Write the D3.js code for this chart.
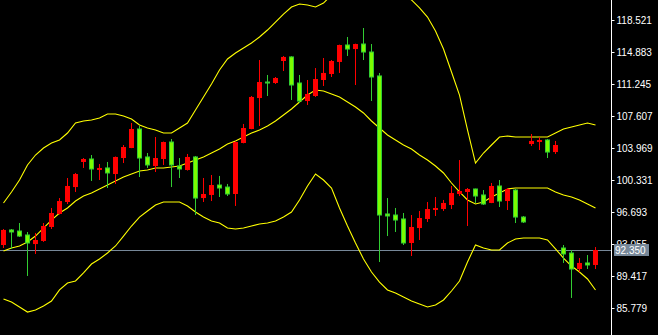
<!DOCTYPE html>
<html lang="en">
<head>
  <meta charset="UTF-8">
  <title>Candles with Bollinger Bands</title>
<script src="https://d3js.org/d3.v7.min.js"></script>
<style>
  html, body { margin: 0; padding: 0; background: #000; overflow: hidden; }
</style>
</head>
<body>
<div id="chart"></div>

  <script>

// OHLC (red = up bar, lime = down bar)
const opens  = [92.94,94.65,94.53,94.08,93.05,93.40,94.99,96.47,97.83,99.53,102.38,102.72,101.47,101.70,101.01,102.83,103.97,106.13,102.95,101.92,102.72,104.65,101.92,101.47,102.95,98.28,98.63,99.76,99.53,98.74,104.54,106.13,109.65,111.47,111.36,113.86,114.32,111.36,109.31,109.88,111.70,112.38,113.75,115.68,115.22,115.79,114.88,112.16,96.47,96.35,95.90,93.17,94.87,95.90,96.92,97.03,97.49,98.74,98.97,99.31,98.63,97.72,99.65,97.94,99.19,96.12,104.42,104.65,104.88,103.51,92.60,92.03,90.21,90.90,90.67];
const highs  = [94.76,94.76,95.44,94.42,94.31,95.44,97.15,98.28,100.56,101.13,102.83,103.17,102.15,102.38,103.00,104.31,106.81,106.47,103.40,105.22,104.70,104.99,102.83,103.29,103.06,100.56,100.90,100.79,99.88,104.70,106.70,109.88,113.97,112.27,112.04,114.43,114.40,112.27,111.70,113.06,114.20,113.97,115.72,116.59,115.83,117.61,115.79,112.50,98.28,97.15,96.58,96.35,96.81,97.83,98.40,98.06,99.65,102.60,99.42,99.35,99.19,99.99,100.33,99.42,99.31,96.24,105.56,105.22,104.99,104.77,92.94,92.37,91.46,91.80,92.71];
const lows   = [92.60,92.49,93.85,89.42,91.92,93.30,94.76,96.40,97.60,98.97,101.70,100.22,100.33,99.42,99.88,102.26,103.95,100.67,101.70,101.24,102.04,99.53,100.56,101.40,96.35,97.83,97.94,98.40,98.51,97.38,104.50,106.10,106.47,109.88,111.25,112.72,109.43,109.09,108.86,109.77,111.02,112.04,112.50,114.43,111.13,113.97,109.31,91.01,93.96,94.42,92.94,91.69,93.51,95.56,96.24,96.81,97.03,98.51,95.10,97.72,97.49,97.70,97.26,96.92,95.44,95.44,104.20,103.74,102.83,103.29,90.90,86.92,89.87,90.21,90.21];
const closes = [94.65,94.42,93.96,93.17,93.51,95.10,96.58,97.94,99.65,101.01,102.72,101.58,101.70,101.13,102.95,104.08,106.13,102.83,102.04,102.83,104.65,102.04,101.58,102.95,98.28,98.74,99.76,99.42,98.74,104.65,106.24,109.77,111.47,111.36,111.93,114.32,111.13,109.31,110.11,111.81,112.50,113.86,115.68,115.22,115.79,114.88,112.04,96.35,96.24,95.78,93.17,94.99,96.01,97.03,97.15,97.72,98.85,99.08,99.31,98.51,97.60,99.65,97.94,99.31,96.12,95.56,104.77,104.88,103.51,104.31,91.92,90.21,90.90,90.67,92.37];

// Bollinger bands
const bandUpper = [97.72,98.97,100.33,102.04,103.17,103.97,104.54,104.88,105.67,106.81,107.04,107.15,107.38,107.83,107.83,107.61,107.27,106.58,106.24,106.02,105.67,105.67,106.24,106.81,108.29,109.77,111.25,112.84,114.09,114.77,115.34,115.91,116.59,117.38,118.29,119.20,120.00,120.34,120.23,120.00,120.45,121.36,122.16,122.84,123.30,123.52,123.52,123.30,122.84,122.16,121.48,120.80,119.89,118.86,117.27,115.22,112.61,109.99,106.02,102.26,103.40,104.31,105.22,105.33,105.22,105.22,105.22,105.22,105.22,105.67,106.13,106.36,106.58,106.81,106.58];
const bandMiddle = [92.26,92.60,92.83,93.28,93.96,94.87,95.78,96.58,97.15,97.94,98.51,98.85,99.31,99.76,100.22,100.67,101.01,101.35,101.47,101.70,101.70,101.81,101.92,102.26,102.60,102.95,103.40,103.86,104.42,104.77,105.22,105.67,106.02,106.47,107.04,107.72,108.40,109.20,109.99,110.56,110.45,110.11,109.77,109.20,108.63,107.95,107.04,106.24,105.45,104.88,104.31,103.86,103.17,102.60,101.92,101.13,99.99,98.97,98.06,97.60,97.83,98.40,98.85,99.31,99.42,99.42,99.42,99.42,99.42,98.97,98.63,98.40,98.06,97.60,97.15];
const bandLower = [86.80,86.46,85.89,85.32,85.55,86.01,86.57,87.83,88.62,88.85,89.76,90.78,91.35,92.03,92.83,93.96,95.10,96.12,96.81,97.49,97.83,97.83,97.83,97.38,96.69,96.12,95.67,95.44,94.87,94.76,94.87,95.10,95.33,95.44,95.67,96.12,96.69,98.06,99.65,101.01,100.33,99.42,97.15,95.10,93.17,91.35,89.87,88.73,87.83,87.48,87.03,86.57,86.23,85.89,86.12,86.69,87.71,88.85,91.01,92.94,92.60,92.37,92.37,93.17,93.62,93.74,93.74,93.74,93.51,92.49,91.46,90.55,89.87,89.08,87.83];

const tickLabels = ['118.521','114.883','111.245','107.607','103.969','100.331','96.693','93.055','89.417','85.779'];
const lastPrice = 92.350;

const width = 658;
const height = 335;
const plotRight = 611;

const candles = opens.map((o, i) => ({ i, o, h: highs[i], l: lows[i], c: closes[i] }));

const x = d3.scaleLinear()
  .domain([0, candles.length - 1])
  .range([3.5, 595.5]);

const y = d3.scaleLinear()
  .domain([85.779, 118.521])
  .range([308, 20]);

const svg = d3.select('#chart')
  .append('svg')
  .attr('width', width)
  .attr('height', height)
  .style('display', 'block')
  .style('background', '#000');

svg.append('clipPath')
  .attr('id', 'plot')
  .append('rect')
  .attr('x', 0).attr('y', 0)
  .attr('width', plotRight).attr('height', height);

const plot = svg.append('g').attr('clip-path', 'url(#plot)');

// current price line
plot.append('line')
  .attr('x1', 0).attr('x2', plotRight)
  .attr('y1', Math.round(y(lastPrice)) + 0.5)
  .attr('y2', Math.round(y(lastPrice)) + 0.5)
  .attr('stroke', '#778899')
  .attr('stroke-width', 1);

// bands
const line = d3.line()
  .x((d, i) => x(i))
  .y(d => y(d));

[bandUpper, bandMiddle, bandLower].forEach(band => {
  plot.append('path')
    .datum(band)
    .attr('d', line)
    .attr('fill', 'none')
    .attr('stroke', '#ffff00')
    .attr('stroke-width', 1.1);
});

// candles
const up = '#ff0000';
const downFill = '#7cfc00';
const downLine = '#32cd32';

const g = plot.selectAll('g.candle')
  .data(candles)
  .enter()
  .append('g')
  .attr('class', 'candle');

g.append('line')
  .attr('x1', d => x(d.i)).attr('x2', d => x(d.i))
  .attr('y1', d => y(d.h)).attr('y2', d => y(d.l))
  .attr('stroke', d => d.c >= d.o ? up : downLine)
  .attr('stroke-width', 1);

g.append('rect')
  .attr('x', d => d.c >= d.o ? x(d.i) - 2.5 : x(d.i) - 2)
  .attr('width', d => d.c >= d.o ? 5 : 4)
  .attr('y', d => y(Math.max(d.o, d.c)))
  .attr('height', d => Math.max(1, Math.abs(y(d.o) - y(d.c))))
  .attr('fill', d => d.c >= d.o ? up : downFill)
  .attr('stroke', d => d.c >= d.o ? 'none' : downLine)
  .attr('stroke-width', 1);

// price axis
const axis = d3.axisRight(y)
  .tickValues(tickLabels.map(Number))
  .tickFormat((d, i) => tickLabels[i])
  .tickSize(3)
  .tickPadding(2);

const ax = svg.append('g')
  .attr('transform', `translate(${plotRight + 0.5},0)`)
  .call(axis);

ax.select('.domain')
  .attr('d', `M0,0V${height}`)
  .attr('stroke', '#ffffff');
ax.selectAll('.tick line').attr('stroke', '#ffffff');
ax.selectAll('.tick text')
  .attr('fill', '#ffffff')
  .style('font-family', '"Liberation Sans", Arial, sans-serif')
  .style('font-size', '10px');

// last price tag
const tagY = Math.round(y(lastPrice));
svg.append('rect')
  .attr('x', 614).attr('y', tagY - 6)
  .attr('width', 35).attr('height', 12)
  .attr('fill', '#778899');
svg.append('text')
  .attr('x', 615).attr('y', tagY)
  .attr('dy', '0.35em')
  .attr('fill', '#ffffff')
  .style('font-family', '"Liberation Sans", Arial, sans-serif')
  .style('font-size', '10px')
  .text(lastPrice.toFixed(3));

  </script>
</body>
</html>
